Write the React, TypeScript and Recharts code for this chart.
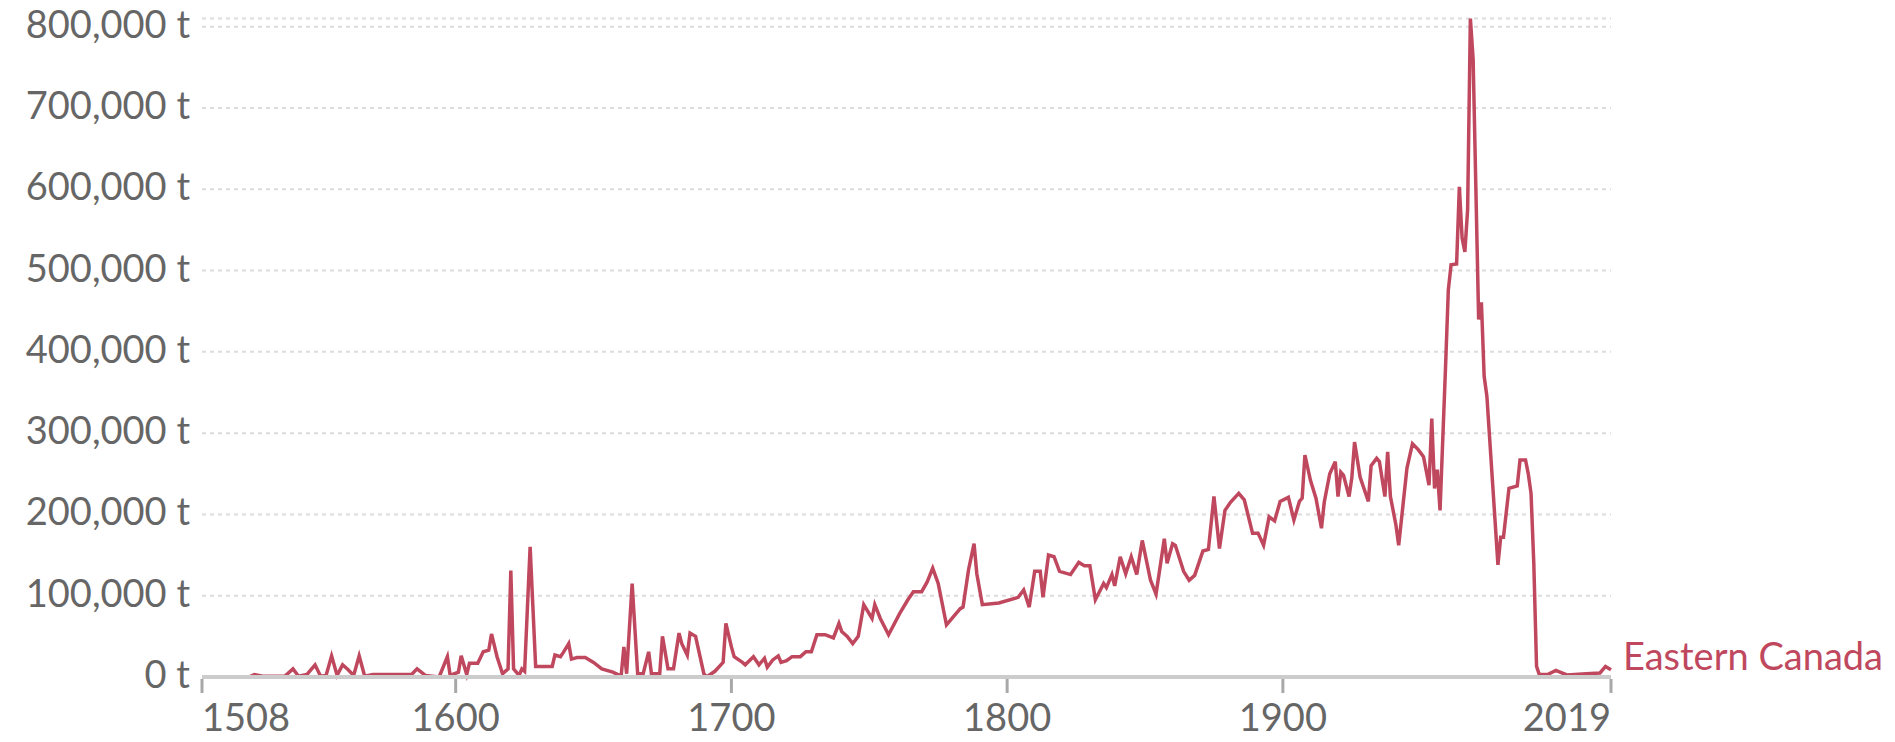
import React from "react";
import { LineChart, Line, XAxis, YAxis, CartesianGrid } from "recharts";

const years: number[] = [
  1508, 1525, 1527, 1530, 1538, 1541, 1543, 1546, 1549, 1551, 1553, 1555, 1557, 1559, 1561, 1563, 1565, 1567, 1570, 1584,
  1586, 1589, 1594, 1597, 1598, 1601, 1602, 1604, 1605, 1608, 1610, 1612, 1613, 1615, 1617, 1619, 1620, 1621, 1623, 1624,
  1625, 1627, 1629, 1635, 1636, 1638, 1639, 1641, 1642, 1644, 1647, 1650, 1653, 1657, 1660, 1661, 1662, 1664, 1666, 1668,
  1670, 1671, 1674, 1675, 1677, 1679, 1681, 1682, 1684, 1685, 1687, 1690, 1691, 1694, 1697, 1698, 1700, 1701, 1704, 1705,
  1708, 1710, 1712, 1713, 1715, 1717, 1718, 1720, 1722, 1725, 1727, 1729, 1731, 1734, 1737, 1739, 1740, 1742, 1744, 1746,
  1748, 1751, 1752, 1754, 1757, 1761, 1764, 1766, 1769, 1771, 1773, 1775, 1778, 1783, 1784, 1786, 1788, 1789, 1791, 1797,
  1804, 1806, 1808, 1810, 1812, 1813, 1815, 1817, 1819, 1823, 1826, 1828, 1830, 1832, 1835, 1836, 1838, 1839, 1841, 1843,
  1845, 1847, 1849, 1852, 1854, 1857, 1858, 1860, 1861, 1864, 1866, 1868, 1871, 1873, 1875, 1877, 1879, 1881, 1884, 1886,
  1889, 1891, 1893, 1895, 1897, 1899, 1902, 1904, 1906, 1907, 1908, 1910, 1912, 1914, 1915, 1917, 1919, 1920, 1921, 1922,
  1924, 1925, 1926, 1928, 1931, 1932, 1934, 1935, 1937, 1938, 1939, 1941, 1942, 1945, 1947, 1949, 1951, 1953, 1954, 1955,
  1956, 1957, 1959, 1960, 1961, 1963, 1964, 1965, 1966, 1967, 1968, 1969, 1970, 1971, 1972, 1973, 1974, 1978, 1979, 1980,
  1982, 1985, 1986, 1988, 1989, 1990, 1991, 1992, 1993, 1996, 1999, 2003, 2010, 2015, 2017, 2019,
];

const catches: number[] = [
  0, 0, 3000, 1000, 1000, 10000, 1000, 3000, 15000, 1000, 2000, 26000, 2000, 15000, 9000, 2000, 26000, 1000, 3000, 3000,
  10000, 2000, 0, 25000, 2000, 6000, 26000, 3000, 17000, 17000, 31000, 33000, 53000, 25000, 4000, 10000, 131000, 10000, 2000, 10000,
  7000, 160000, 13000, 13000, 27000, 25000, 30000, 41000, 22000, 24000, 24000, 18000, 10000, 6000, 1000, 37000, 4000, 115000, 4000, 4000,
  31000, 4000, 4000, 50000, 10000, 10000, 54000, 41000, 27000, 54000, 50000, 4000, 0, 7000, 18000, 66000, 37000, 25000, 18000, 15000,
  25000, 15000, 23000, 12000, 21000, 26000, 18000, 20000, 25000, 25000, 31000, 31000, 52000, 52000, 48000, 66000, 56000, 50000, 41000, 50000,
  89000, 72000, 89000, 72000, 52000, 78000, 95000, 105000, 105000, 117000, 134000, 115000, 64000, 84000, 86000, 132000, 164000, 127000, 89000, 91000,
  98000, 107000, 86000, 130000, 130000, 98000, 150000, 148000, 130000, 126000, 141000, 137000, 137000, 95000, 115000, 110000, 126000, 112000, 148000, 127000,
  148000, 126000, 168000, 119000, 102000, 170000, 140000, 164000, 162000, 130000, 119000, 125000, 155000, 157000, 222000, 158000, 205000, 215000, 226000, 218000,
  177000, 177000, 162000, 197000, 192000, 216000, 221000, 193000, 216000, 220000, 273000, 242000, 220000, 183000, 215000, 250000, 265000, 222000, 252000, 248000,
  222000, 245000, 289000, 246000, 216000, 260000, 269000, 265000, 222000, 277000, 222000, 187000, 162000, 257000, 287000, 280000, 271000, 236000, 318000, 232000,
  255000, 205000, 382000, 476000, 507000, 508000, 603000, 540000, 523000, 575000, 810000, 760000, 600000, 440000, 461000, 370000, 345000, 138000, 172000, 172000,
  232000, 235000, 267000, 267000, 250000, 226000, 140000, 13000, 3000, 3000, 8000, 2500, 4000, 5000, 13000, 9000,
];

const xTicks: number[] = [1508, 1600, 1700, 1800, 1900, 2019];
const yTicks: number[] = [0, 100000, 200000, 300000, 400000, 500000, 600000, 700000, 800000];
const seriesName = "Eastern Canada";

const data = years.map((year, i) => ({ year, value: catches[i] }));

const W = 1895;
const H = 742;
const PLOT_LEFT = 202;
const PLOT_RIGHT = 1611;
const AXIS_Y = 677;
const RED = "#c0485e";
const GREY_TEXT = "#666";
const FONT = "Lato, 'Noto Sans', sans-serif";

const fmtY = (v: number) => `${v.toLocaleString("en-US")} t`;

const YTick = (props: any) => {
  const { y, payload } = props;
  return (
    <text x={PLOT_LEFT - 12} y={y + 11} textAnchor="end" fill={GREY_TEXT} fontSize={38} fontFamily={FONT}>
      {fmtY(payload.value)}
    </text>
  );
};

const XTick = (props: any) => {
  const { x, payload } = props;
  const v = payload.value;
  const first = v === xTicks[0];
  const last = v === xTicks[xTicks.length - 1];
  const anchor = first ? "start" : last ? "end" : "middle";
  return (
    <g>
      <line x1={x} x2={x} y1={AXIS_Y + 2} y2={AXIS_Y + 16} stroke="#a8a8a8" strokeWidth={3} />
      <text x={x} y={AXIS_Y + 54} textAnchor={anchor} fill={GREY_TEXT} fontSize={38} fontFamily={FONT}>
        {String(v)}
      </text>
    </g>
  );
};

const EndLabel = (props: any) => {
  const { x, y, index } = props;
  if (index !== data.length - 1) return null;
  return (
    <text x={x + 12} y={y} fill={RED} fontSize={38} fontFamily={FONT}>
      {seriesName}
    </text>
  );
};

export default function App() {
  return (
    <div style={{ position: "absolute", left: 0, top: 0, width: W, height: H, background: "#fff" }}>
      <LineChart
        width={W}
        height={H}
        data={data}
        margin={{ top: 18.6, right: W - PLOT_RIGHT, bottom: 0, left: 0 }}
      >
        <CartesianGrid vertical={false} stroke="#dcdcdc" strokeDasharray="4 4" strokeWidth={2} />
        <XAxis
          dataKey="year"
          type="number"
          domain={[1508, 2019]}
          ticks={xTicks}
          interval={0}
          height={H - AXIS_Y}
          axisLine={{ stroke: "#cccccc", strokeWidth: 4 }}
          tickLine={false}
          tickSize={0}
          tickMargin={0}
          tick={<XTick />}
        />
        <YAxis
          type="number"
          domain={[0, 810000]}
          ticks={yTicks}
          interval={0}
          width={PLOT_LEFT}
          axisLine={false}
          tickLine={false}
          tickSize={0}
          tickMargin={0}
          tick={<YTick />}
        />
        <Line
          type="linear"
          dataKey="value"
          stroke={RED}
          strokeWidth={3.5}
          dot={false}
          isAnimationActive={false}
          label={<EndLabel />}
        />
      </LineChart>
    </div>
  );
}
